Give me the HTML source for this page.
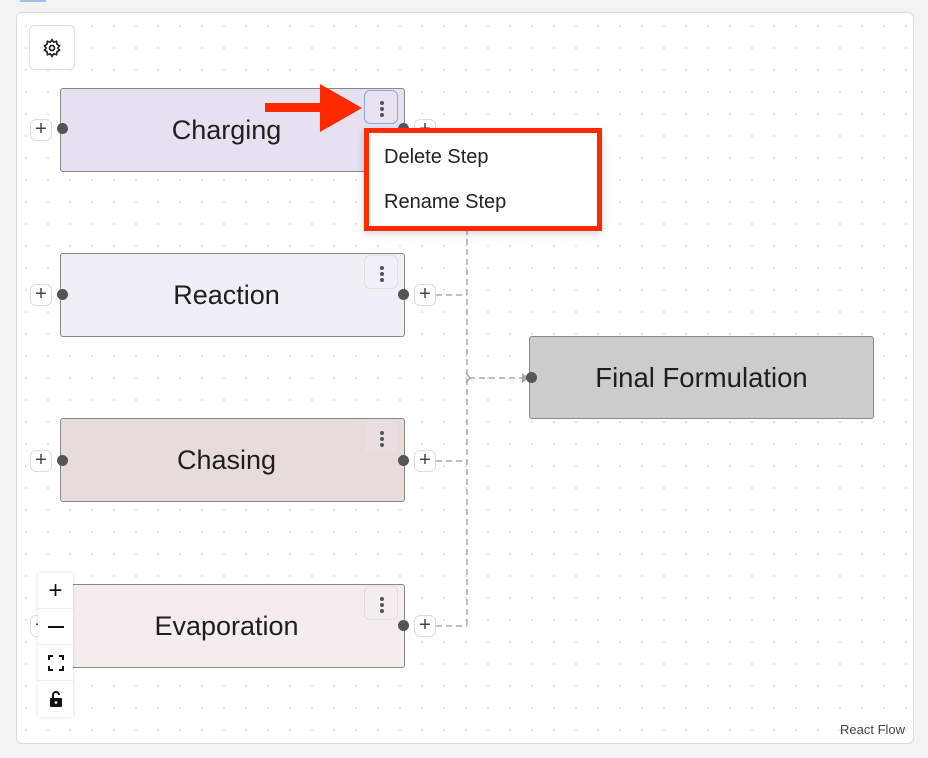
<!DOCTYPE html>
<html><head><meta charset="utf-8"><style>
*{box-sizing:border-box;margin:0;padding:0}
body{width:928px;height:758px;background:#f3f3f3;position:relative;overflow:hidden;font-family:"Liberation Sans",sans-serif;color:#222}
.panel{position:absolute;left:16px;top:12px;width:898px;height:732px;background-color:#fff;border:1px solid #dcdcdc;border-radius:6px;background-image:radial-gradient(circle,#dedede 0.8px,transparent 1.1px);background-size:22px 22px;background-position:-2px 2px}
.node{position:absolute;left:60px;width:345px;height:84px;border:1.5px solid #888;border-radius:3px;font-size:27px;display:flex;align-items:center;justify-content:center;padding-right:12px;color:#1e1e1e}
.menu{position:absolute;width:34px;height:34px;border:1px solid #e2dede;border-radius:6px;left:303px;top:1px;background:rgba(255,255,255,0.1)}
.menu i{position:absolute;left:15px;width:4px;height:4px;border-radius:2px;background:#555}
.dot{position:absolute;width:11px;height:11px;border-radius:50%;background:#555}
.plus{position:absolute;width:22px;height:22px;border:1px solid #ddd;border-radius:6px;background:#fff;font-size:20px;line-height:19px;text-align:center;color:#444}
.ctrl{position:absolute;left:38px;top:573px;width:35px;background:#fff;box-shadow:0 0 3px rgba(0,0,0,.15)}
.ctrl div{height:36px;border-bottom:1px solid #eee;display:flex;align-items:center;justify-content:center;font-size:24px;color:#111}
</style></head><body>
<div style="position:absolute;left:20px;top:0;width:26px;height:2px;background:#9ec0ea"></div>
<div class="panel"></div>
<div style="position:absolute;left:29px;top:25px;width:46px;height:45px;border:1px solid #ddd;border-radius:5px;background:#fff;display:flex;align-items:center;justify-content:center">
<svg width="20" height="20" viewBox="0 0 24 24" fill="none" stroke="#222" stroke-width="2"><circle cx="12" cy="12" r="3"/><path d="M12 2l2 3 3.5-1 .5 3.5 3 2-2 2.5 2 2.5-3 2-.5 3.5-3.5-1-2 3-2-3-3.5 1-.5-3.5-3-2 2-2.5-2-2.5 3-2 .5-3.5 3.5 1z"/></svg></div>
<svg style="position:absolute;left:0;top:0" width="928" height="758">
<g stroke="#aaa" stroke-width="1.5" stroke-dasharray="6 4" fill="none">
<path d="M436 130H467V626"/><path d="M436 295H467"/><path d="M436 461H467"/><path d="M436 626H467"/>
<path d="M469 378H524"/></g>
<path d="M466 373l4 5-4 5" stroke="#aaa" stroke-width="1.5" fill="none"/>
<path d="M522 373l7 5-7 5z" fill="#aaa"/>
</svg>
<div class="node" style="top:88px;background:#e6e0f0">Charging<div class="menu" style="border-color:#8aa6e0"><i style="top:10px"></i><i style="top:16px"></i><i style="top:22px"></i></div></div>
<div class="node" style="top:253px;background:#f0eef7">Reaction<div class="menu"><i style="top:10px"></i><i style="top:16px"></i><i style="top:22px"></i></div></div>
<div class="node" style="top:418px;background:#e8dcdb">Chasing<div class="menu"><i style="top:10px"></i><i style="top:16px"></i><i style="top:22px"></i></div></div>
<div class="node" style="top:584px;background:#f5ecec">Evaporation<div class="menu"><i style="top:10px"></i><i style="top:16px"></i><i style="top:22px"></i></div></div>
<div class="node" style="left:529px;top:336px;height:83px;background:#cccccc;padding-right:0;font-size:27.5px">Final Formulation</div>
<div class="plus" style="left:30px;top:119px">+</div><div class="dot" style="left:57px;top:123px"></div>
<div class="plus" style="left:414px;top:119px">+</div><div class="dot" style="left:398px;top:123px"></div>
<div class="plus" style="left:30px;top:284px">+</div><div class="dot" style="left:57px;top:289px"></div>
<div class="plus" style="left:414px;top:284px">+</div><div class="dot" style="left:398px;top:289px"></div>
<div class="plus" style="left:30px;top:450px">+</div><div class="dot" style="left:57px;top:455px"></div>
<div class="plus" style="left:414px;top:450px">+</div><div class="dot" style="left:398px;top:455px"></div>
<div class="plus" style="left:30px;top:615px">+</div>
<div class="plus" style="left:414px;top:615px">+</div><div class="dot" style="left:398px;top:620px"></div>
<div class="dot" style="left:526px;top:372px"></div>
<div style="position:absolute;left:364px;top:128px;width:238px;height:103px;border:5px solid #ff2a00;background:#fff;box-shadow:0 3px 8px rgba(0,0,0,.15);font-size:20px;color:#222">
<div style="position:absolute;left:15px;top:13px">Delete Step</div>
<div style="position:absolute;left:15px;top:58px">Rename Step</div></div>
<svg style="position:absolute;left:0;top:0" width="928" height="758"><path d="M265 103H320V84L362 108 320 132V112H265z" fill="#ff2a00"/></svg>
<div class="ctrl"><div>+</div><div><span style="display:block;width:16px;height:2px;background:#111"></span></div><div><svg width="16" height="16" viewBox="0 0 16 16" fill="none" stroke="#111" stroke-width="2"><path d="M1 5V1h4M11 1h4v4M15 11v4h-4M5 15H1v-4"/></svg></div><div style="border:0"><svg width="14" height="16" viewBox="0 0 14 16"><path d="M4 7V4a3 3 0 0 1 6 0" stroke="#111" stroke-width="2" fill="none"/><rect x="1" y="7" width="12" height="9" rx="1" fill="#111"/><circle cx="7" cy="11.5" r="1.3" fill="#fff"/></svg></div></div>
<div style="position:absolute;left:840px;top:722px;font-size:13px;color:#444">React Flow</div>
</body></html>
